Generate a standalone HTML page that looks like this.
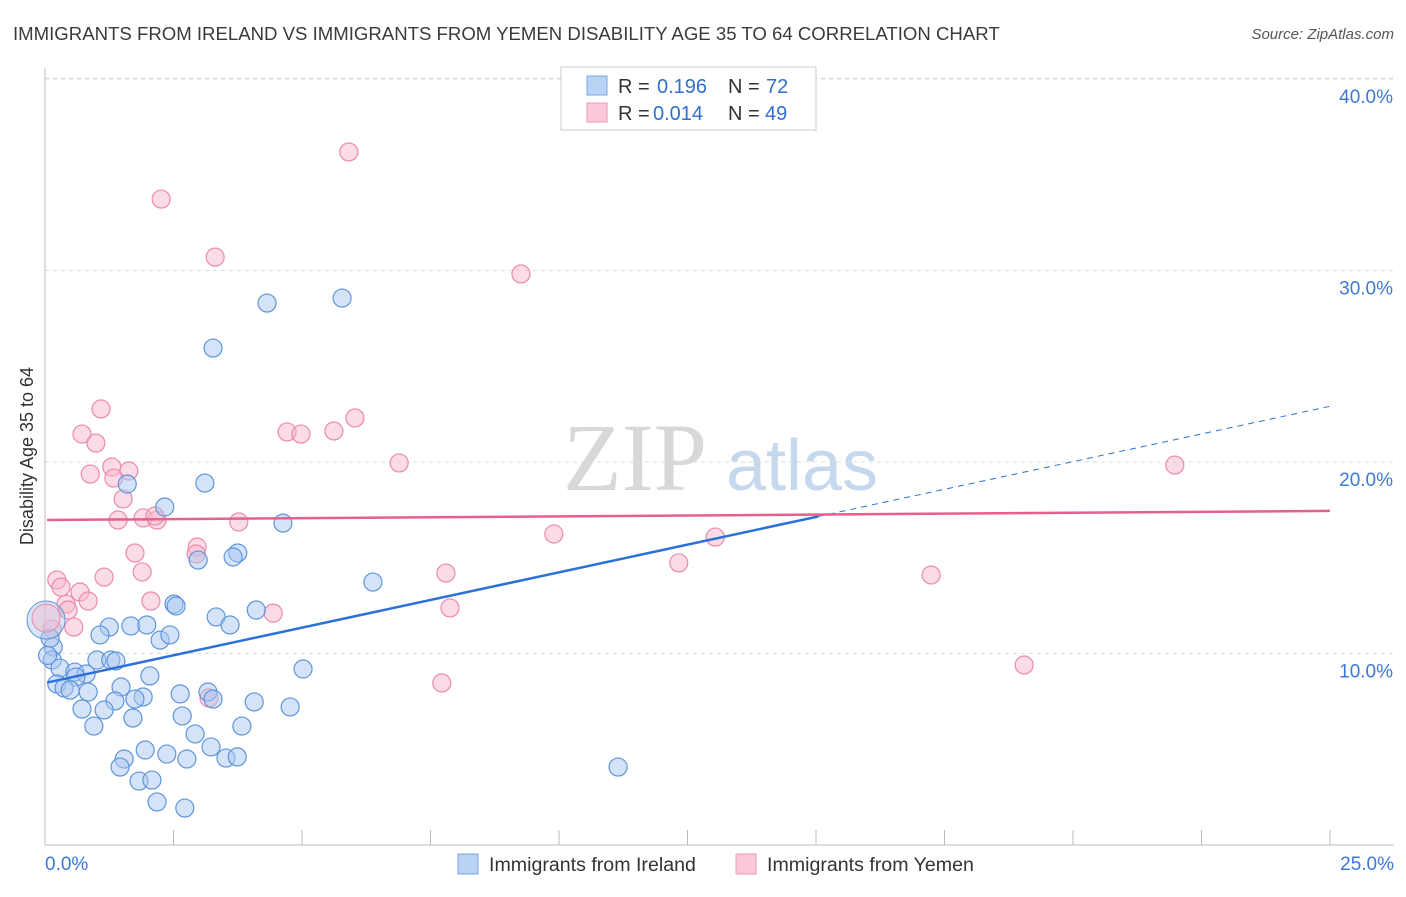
<!DOCTYPE html>
<html><head><meta charset="utf-8"><style>
body{margin:0;background:#fff;font-family:"Liberation Sans",sans-serif;}
</style></head><body>
<svg id="chart" width="1406" height="892" xmlns="http://www.w3.org/2000/svg" font-family="Liberation Sans, sans-serif">
<text x="13" y="40" font-size="18.6" fill="#3a3a3a">IMMIGRANTS FROM IRELAND VS IMMIGRANTS FROM YEMEN DISABILITY AGE 35 TO 64 CORRELATION CHART</text>
<text x="1394" y="39" font-size="15" fill="#555" font-style="italic" text-anchor="end">Source: ZipAtlas.com</text>
<g>
<text x="635" y="490" font-size="96" fill="#d8d8d8" font-family="Liberation Serif, serif" text-anchor="middle">ZIP</text>
<text x="802" y="490" font-size="72" fill="#c5d8ee" text-anchor="middle">atlas</text>
</g>
<g id="grid"></g><g id="axes"></g><g id="pts"></g><g id="lines"></g>
<g>
<rect x="561" y="67" width="255" height="63" fill="#fff" stroke="#ccc"/>
<rect x="587" y="76" width="20" height="19" fill="#b9d3f5" stroke="#7aa6e3"/>
<rect x="587" y="103" width="20" height="19" fill="#fbc9d8" stroke="#ef9ab5"/>
<text x="618" y="93" font-size="20" fill="#333">R =</text>
<text x="657" y="93" font-size="20" fill="#2f6fd0">0.196</text>
<text x="728" y="93" font-size="20" fill="#333">N =</text>
<text x="766" y="93" font-size="20" fill="#2f6fd0">72</text>
<text x="618" y="120" font-size="20" fill="#333">R =</text>
<text x="653" y="120" font-size="20" fill="#2f6fd0">0.014</text>
<text x="728" y="120" font-size="20" fill="#333">N =</text>
<text x="765" y="120" font-size="20" fill="#2f6fd0">49</text>
</g>
<g>
<rect x="458" y="854" width="20" height="20" fill="#b9d3f5" stroke="#7aa6e3"/>
<text x="489" y="871" font-size="19.6" fill="#333">Immigrants from Ireland</text>
<rect x="736" y="854" width="20" height="20" fill="#fbc9d8" stroke="#ef9ab5"/>
<text x="767" y="871" font-size="19.6" fill="#333">Immigrants from Yemen</text>
</g>
<text transform="translate(33,456) rotate(-90)" font-size="18" fill="#333" text-anchor="middle">Disability Age 35 to 64</text>
</svg>
<script>
const xTicks=[0,2.5,5,7.5,10,12.5,15,17.5,20,22.5,25];
const yTicks=[10,20,30,40];
const yTickLabels=["10.0%","20.0%","30.0%","40.0%"];
const xTickLabels=["0.0%","25.0%"];
const irelandX=[4.32,5.78,3.27,3.11,2.33,1.60,4.63,3.75,3.66,2.98,6.38,2.51,2.55,3.33,4.11,3.60,1.25,1.67,1.98,1.07,2.24,2.43,0.16,0.14,1.01,1.28,1.38,0.29,0.58,0.80,0.60,5.02,2.04,0.23,0.37,0.49,1.48,0.84,1.91,1.75,1.36,2.63,3.17,3.27,4.07,4.77,0.72,1.15,1.71,2.67,0.95,3.83,2.92,3.23,1.95,1.54,2.37,2.76,3.52,3.74,1.46,1.83,2.08,2.18,2.72,11.15,0.10,0.05];
const irelandY=[28.30,28.56,25.95,18.90,17.65,18.85,16.81,15.25,15.04,14.88,13.73,12.58,12.48,11.91,12.27,11.49,11.38,11.44,11.49,10.97,10.70,10.97,10.34,9.66,9.66,9.66,9.61,9.24,9.03,8.93,8.77,9.19,8.83,8.41,8.20,8.09,8.25,7.99,7.73,7.62,7.52,7.89,7.99,7.62,7.47,7.21,7.10,7.05,6.63,6.74,6.21,6.21,5.80,5.12,4.96,4.49,4.75,4.49,4.54,4.60,4.07,3.34,3.39,2.25,1.93,4.07,10.8,9.9];
const yemenX=[5.91,2.26,3.31,9.26,1.09,0.72,0.99,4.71,4.98,5.62,6.03,6.89,1.30,1.63,0.88,1.34,1.52,21.98,1.42,1.91,2.18,2.14,3.77,9.90,13.04,1.75,2.96,2.94,1.89,1.15,7.80,12.33,17.24,0.23,0.31,0.68,0.84,0.41,2.06,4.44,7.88,0.45,0.56,0.14,19.05,7.72,3.19];
const yemenY=[36.19,33.73,30.70,29.82,22.77,21.46,20.99,21.57,21.46,21.62,22.30,19.95,19.74,19.53,19.37,19.16,18.07,19.84,16.97,17.08,16.97,17.18,16.87,16.24,16.08,15.25,15.56,15.20,14.26,13.99,14.20,14.73,14.10,13.84,13.47,13.21,12.74,12.58,12.74,12.11,12.38,12.27,11.38,11.28,9.40,8.46,7.68];
const bigX=[0.02,0.02];const bigY=[11.75,11.85];
const irelandTrend=[8.46,0.578]; const yemenTrend=[16.97,0.019];
const NS="http://www.w3.org/2000/svg";
const X=v=>45+v*51.4, Y=v=>845-v*19.15;
function mk(t,a,p){const e=document.createElementNS(NS,t);for(const k in a)e.setAttribute(k,a[k]);p.appendChild(e);return e;}
const grid=document.getElementById('grid'),axes=document.getElementById('axes'),pts=document.getElementById('pts'),lines=document.getElementById('lines');
yTicks.forEach((t,i)=>{
 const l=mk('line',{x1:45,x2:1394,y1:Y(t),y2:Y(t),stroke:'#ddd','stroke-dasharray':'4,4'},grid);
 
 
 const tx=mk('text',{x:1393,y:Y(t)+24,'font-size':19,fill:'#3b78d8','text-anchor':'end'},axes);
 tx.textContent=yTickLabels[i];
 
 
});
const ya=mk('line',{x1:45,x2:45,y1:68,y2:845,stroke:'#bbb'},axes);


const xa=mk('line',{x1:45,x2:1394,y1:845,y2:845,stroke:'#bbb'},axes);


xTicks.forEach(t=>{const l=mk('line',{x1:X(t),x2:X(t),y1:830,y2:845,stroke:'#bbb'},axes);
 
 });
const xl0=mk('text',{x:45,y:870,'font-size':19,fill:'#3b78d8'},axes);xl0.textContent=xTickLabels[0];


const xl1=mk('text',{x:1394,y:870,'font-size':19,fill:'#3b78d8','text-anchor':'end'},axes);xl1.textContent=xTickLabels[1];


function dots(xs,ys,fill,stroke,r,name){xs.forEach((x,i)=>{const c=mk('circle',{cx:X(x),cy:Y(ys[i]),r:r,fill:fill,'fill-opacity':0.5,stroke:stroke,'stroke-width':1.2},pts);
 
 });}
dots(yemenX,yemenY,'#f7b7cb','#ec8aa9',9,'yemen-point');
dots(irelandX,irelandY,'#a9c8f0','#5f95dc',9,'ireland-point');
const b1=mk('circle',{cx:X(bigX[0]),cy:Y(bigY[0]),r:19,fill:'#a9c8f0','fill-opacity':0.45,stroke:'#5f95dc'},pts);


const b2=mk('circle',{cx:X(bigX[1]),cy:Y(bigY[1]),r:14,fill:'#f7b7cb','fill-opacity':0.45,stroke:'#ec8aa9'},pts);


const f=(p,x)=>p[0]+p[1]*x;
const t1=mk('line',{x1:X(0.04),y1:Y(f(irelandTrend,0.04)),x2:X(15.04),y2:Y(f(irelandTrend,15.04)),stroke:'#2a72d8','stroke-width':2.5},lines);


const t2=mk('line',{x1:X(15.04),y1:Y(f(irelandTrend,15.04)),x2:X(25),y2:Y(f(irelandTrend,25)),stroke:'#2a72d8','stroke-width':1,'stroke-dasharray':'6,5'},lines);


const t3=mk('line',{x1:X(0.04),y1:Y(f(yemenTrend,0.04)),x2:X(25),y2:Y(f(yemenTrend,25)),stroke:'#e5608c','stroke-width':2.5},lines);


const topGrid=mk('line',{x1:45,x2:1394,y1:Y(40)-1,y2:Y(40)-1,stroke:'#ddd','stroke-dasharray':'4,4'},grid);


</script>
</body></html>
